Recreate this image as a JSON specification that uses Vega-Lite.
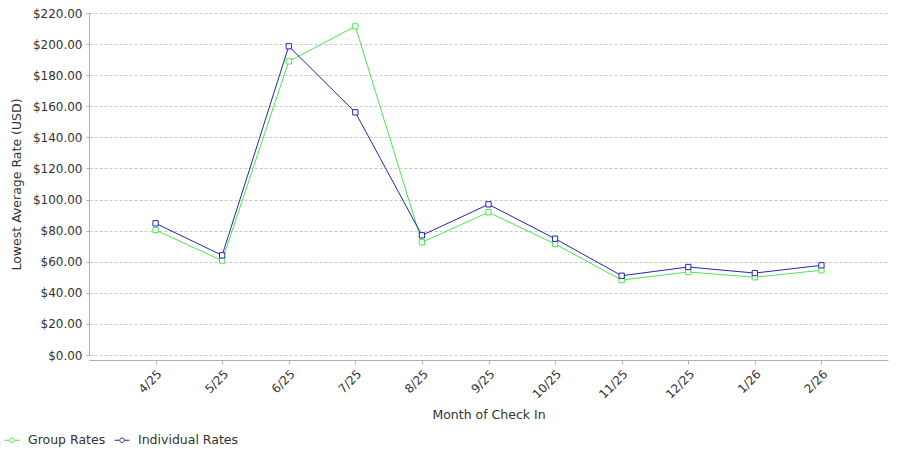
{
  "$schema": "https://vega.github.io/schema/vega-lite/v6.json",
  "width": 799,
  "height": 342,
  "autosize": "none",
  "padding": {"left": 89, "top": 13, "right": 12, "bottom": 95},
  "background": "white",
  "config": {
    "font": "DejaVu Sans",
    "view": {"stroke": null},
    "axis": {
      "labelFont": "DejaVu Sans",
      "titleFont": "DejaVu Sans",
      "labelFontSize": 12,
      "titleFontSize": 12.5,
      "titleFontWeight": "normal",
      "labelColor": "#333333",
      "titleColor": "#333333",
      "domainColor": "#b0b0b0",
      "tickColor": "#b0b0b0"
    }
  },
  "data": {
    "values": [
      {"month": "4/25", "series": "Group Rates", "rate": 80.4},
      {"month": "5/25", "series": "Group Rates", "rate": 60.7},
      {"month": "6/25", "series": "Group Rates", "rate": 188.9},
      {"month": "7/25", "series": "Group Rates", "rate": 211.4},
      {"month": "8/25", "series": "Group Rates", "rate": 72.5},
      {"month": "9/25", "series": "Group Rates", "rate": 91.8},
      {"month": "10/25", "series": "Group Rates", "rate": 71.4},
      {"month": "11/25", "series": "Group Rates", "rate": 48.2},
      {"month": "12/25", "series": "Group Rates", "rate": 53.4},
      {"month": "1/26", "series": "Group Rates", "rate": 50.0},
      {"month": "2/26", "series": "Group Rates", "rate": 54.5},
      {"month": "4/25", "series": "Individual Rates", "rate": 84.7},
      {"month": "5/25", "series": "Individual Rates", "rate": 64.1},
      {"month": "6/25", "series": "Individual Rates", "rate": 198.6},
      {"month": "7/25", "series": "Individual Rates", "rate": 156.1},
      {"month": "8/25", "series": "Individual Rates", "rate": 77.0},
      {"month": "9/25", "series": "Individual Rates", "rate": 96.9},
      {"month": "10/25", "series": "Individual Rates", "rate": 74.8},
      {"month": "11/25", "series": "Individual Rates", "rate": 51.0},
      {"month": "12/25", "series": "Individual Rates", "rate": 56.6},
      {"month": "1/26", "series": "Individual Rates", "rate": 52.7},
      {"month": "2/26", "series": "Individual Rates", "rate": 57.7}
    ]
  },
  "mark": {
    "type": "line",
    "strokeWidth": 1,
    "point": {"shape": "square", "filled": false, "fill": "white", "size": 28, "strokeWidth": 1}
  },
  "encoding": {
    "x": {
      "field": "month",
      "type": "ordinal",
      "sort": ["4/25", "5/25", "6/25", "7/25", "8/25", "9/25", "10/25", "11/25", "12/25", "1/26", "2/26"],
      "scale": {"type": "point", "padding": 1},
      "axis": {
        "title": "Month of Check In",
        "labelAngle": -45,
        "offset": 5,
        "tickSize": 4,
        "labelPadding": 4,
        "titlePadding": 8,
        "grid": false
      }
    },
    "y": {
      "field": "rate",
      "type": "quantitative",
      "scale": {"domain": [0, 220], "nice": false},
      "axis": {
        "title": "Lowest Average Rate (USD)",
        "format": "$,.2f",
        "values": [0, 20, 40, 60, 80, 100, 120, 140, 160, 180, 200, 220],
        "tickSize": 3,
        "labelPadding": 4,
        "titlePadding": 9,
        "grid": true,
        "gridColor": "#c8c8c8",
        "gridDash": [3, 2],
        "gridWidth": 1
      }
    },
    "color": {
      "field": "series",
      "type": "nominal",
      "scale": {"domain": ["Group Rates", "Individual Rates"], "range": ["#4ee64e", "#2626aa"]},
      "legend": {
        "title": null,
        "orient": "none",
        "direction": "horizontal",
        "legendX": -85,
        "legendY": 419,
        "labelFontSize": 12.5,
        "labelColor": "#333333",
        "labelFont": "DejaVu Sans",
        "symbolType": "M-1,0h0.62M0.38,0h0.62M0.3,0a0.3,0.3 0 1,1 -0.6,0a0.3,0.3 0 1,1 0.6,0",
        "symbolSize": 225,
        "symbolStrokeWidth": 1,
        "symbolFillColor": "white",
        "labelOffset": 8,
        "columnPadding": 6
      }
    }
  }
}
